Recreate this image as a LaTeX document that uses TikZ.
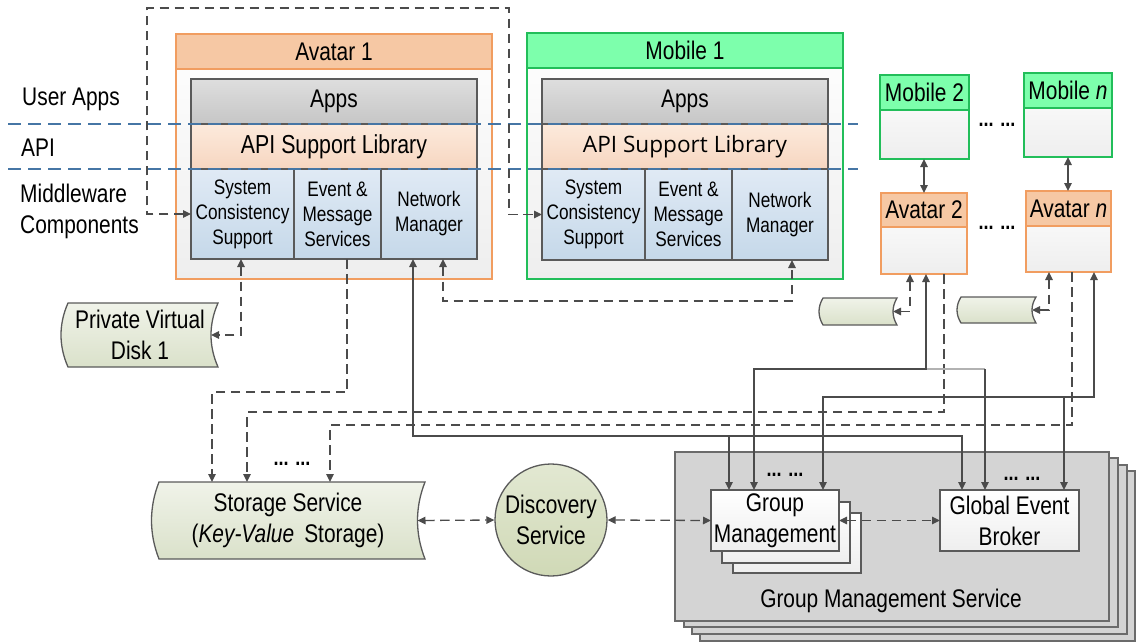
\documentclass[tikz,border=0pt]{standalone}
\usepackage{fontspec}
\setmainfont{Liberation Sans}[FakeStretch=0.82]
\newfontfamily\osans{Open Sans}
\usetikzlibrary{arrows.meta,fit,calc,backgrounds}

\definecolor{avhead}{RGB}{246,200,164}
\definecolor{avbord}{RGB}{241,157,96}
\definecolor{mohead}{RGB}{125,255,172}
\definecolor{mobord}{RGB}{34,190,90}
\definecolor{edgec}{RGB}{90,90,90}
\definecolor{connc}{RGB}{75,75,75}
\definecolor{apitop}{RGB}{252,234,220}
\definecolor{apibot}{RGB}{247,214,192}
\definecolor{comptop}{RGB}{224,234,245}
\definecolor{compbot}{RGB}{197,216,233}
\definecolor{appstop}{RGB}{222,222,222}
\definecolor{appsbot}{RGB}{198,198,198}
\definecolor{layerblue}{RGB}{70,118,165}
\definecolor{disktop}{RGB}{240,243,233}
\definecolor{diskbot}{RGB}{218,225,202}
\definecolor{disctop}{RGB}{226,232,210}
\definecolor{discbot}{RGB}{208,217,182}
\definecolor{gmsfill}{RGB}{212,212,212}
\definecolor{bodybot}{RGB}{238,238,238}

\newcommand\diskshape[2]{%
  \begin{scope}[on background layer]
  \path[draw=edgec, line width=1.3pt, top color=disktop, bottom color=diskbot]
    (#1.north west) -- (#1.north east)
    .. controls ($(#1.north east)!0.33!(#1.south east)+(-1.333*#2,0)$)
       and ($(#1.north east)!0.67!(#1.south east)+(-1.333*#2,0)$) .. (#1.south east)
    -- (#1.south west)
    .. controls ($(#1.south west)!0.33!(#1.north west)+(-1.333*#2,0)$)
       and ($(#1.south west)!0.67!(#1.north west)+(-1.333*#2,0)$) .. (#1.north west) -- cycle;
  \end{scope}}

\begin{document}
\begin{tikzpicture}[x=1pt,y=-1pt,
  base/.style={inner sep=0pt, outer sep=0pt, align=center, font=\fontsize{25.5}{31}\selectfont},
  avbody/.style={base, draw=avbord, line width=1.5pt, top color=white, bottom color=bodybot},
  avhd/.style={base, draw=avbord, line width=1.5pt, fill=avhead},
  mobody/.style={base, draw=mobord, line width=1.5pt, top color=white, bottom color=bodybot},
  mohd/.style={base, draw=mobord, line width=1.5pt, fill=mohead},
  appsbox/.style={base, draw=edgec, line width=1.4pt, top color=appstop, bottom color=appsbot},
  apibox/.style={base, draw=edgec, line width=1.4pt, top color=apitop, bottom color=apibot},
  compbox/.style={base, draw=edgec, line width=1.4pt, top color=comptop, bottom color=compbot},
  diskbox/.style={base},
  gmspanel/.style={base, draw=edgec!90, line width=1.4pt, fill=gmsfill},
  whitebox/.style={base, draw=edgec, line width=1.4pt, top color=white, bottom color=bodybot},
  label/.style={inner sep=0pt, font=\fontsize{25.5}{31}\selectfont, align=left},
  dots/.style={inner sep=0pt, font=\bfseries\fontsize{22}{26}\selectfont},
  solidc/.style={draw=connc, line width=1.3pt},
  lightc/.style={draw=black!30, line width=1.3pt},
  dashc/.style={draw=connc, line width=1.3pt, dash pattern=on 9.5pt off 5.5pt},
  arr/.style={-{Triangle[length=8pt,width=7.5pt]}},
  barr/.style={{Triangle[length=8pt,width=7.5pt]}-{Triangle[length=8pt,width=7.5pt]}}
]
\useasboundingbox (0,0) rectangle (1136,643);

% ---------- left labels
\node[label, anchor=west] (lusr) at (22,99) {User Apps};
\node[label, anchor=west] (lapi) at (21,148) {API};
\node[label, anchor=west] (lmid) at (20,211) {Middleware\\Components};

% ---------- Avatar 1
\node[avbody, fit={(176,34)(492,279)}] (av1) {};
\node[avhd, fit={(176,34)(492,69)}] (av1h) {};
\node at (av1h.center) {\fontsize{25.5}{31}\selectfont Avatar 1};
\node[appsbox, fit={(191,79)(477,124)}] (apps1) {};
\node at (apps1.center) {\fontsize{25.5}{31}\selectfont Apps};
\node[apibox, fit={(191,124)(477,169)}] (api1) {};
\node at (api1.center) {\fontsize{26}{30}\selectfont API Support Library};
\node[compbox, fit={(191,169)(294,259)}] (scs1) {};
\node[compbox, fit={(294,169)(381,259)}] (ems1) {};
\node[compbox, fit={(381,169)(477,259)}] (nm1) {};
\node[align=center, font=\fontsize{21}{25}\selectfont] at (scs1.center) {System\\Consistency\\Support};
\node[align=center, font=\fontsize{21}{25}\selectfont] at (ems1.center) {Event \&\\Message\\Services};
\node[align=center, font=\fontsize{21}{25}\selectfont] at (nm1.center) {Network\\Manager};

% ---------- Mobile 1
\node[mobody, fit={(527,33)(843,279)}] (mo1) {};
\node[mohd, fit={(527,33)(843,68)}] (mo1h) {};
\node at (mo1h.center) {\fontsize{25.5}{31}\selectfont Mobile 1};
\node[appsbox, fit={(542,79)(828,124)}] (appsm) {};
\node at (appsm.center) {\fontsize{25.5}{31}\selectfont Apps};
\node[apibox, fit={(542,124)(828,169)}] (apim) {};
\node at (apim.center) {\osans\fontsize{22.6}{27}\selectfont API Support Library};
\node[compbox, fit={(542,169)(645,260)}] (scsm) {};
\node[compbox, fit={(645,169)(732,260)}] (emsm) {};
\node[compbox, fit={(732,169)(828,260)}] (nmm) {};
\node[align=center, font=\fontsize{21}{25}\selectfont] at (scsm.center) {System\\Consistency\\Support};
\node[align=center, font=\fontsize{21}{25}\selectfont] at (emsm.center) {Event \&\\Message\\Services};
\node[align=center, font=\fontsize{21}{25}\selectfont] at (nmm.center) {Network\\Manager};

% ---------- small mobiles / avatars
\node[mobody, fit={(880,75)(969,159)}] (mo2) {};
\node[mohd, fit={(880,75)(969,110)}] (mo2h) {};
\node at (mo2h.center) {\fontsize{25.5}{31}\selectfont Mobile 2};
\node[mobody, fit={(1024,73)(1112,157)}] (mon) {};
\node[mohd, fit={(1024,73)(1112,108)}] (monh) {};
\node at (monh.center) {\fontsize{25.5}{31}\selectfont Mobile \textit{n}};
\node[avbody, fit={(881,193)(967,274)}] (av2) {};
\node[avhd, fit={(881,193)(967,227)}] (av2h) {};
\node at (av2h.center) {\fontsize{25.5}{31}\selectfont Avatar 2};
\node[avbody, fit={(1026,191)(1111,272)}] (avn) {};
\node[avhd, fit={(1026,191)(1111,226)}] (avnh) {};
\node at (avnh.center) {\fontsize{25.5}{31}\selectfont Avatar \textit{n}};
\node[dots] (dm) at (997,125) {... ...};
\node[dots] (da) at (997,228) {... ...};

% ---------- disks
\node[diskbox, fit={(68,303)(218,367)}] (pvd) {};
\diskshape{pvd}{7}
\node at (pvd.center) [align=center, font=\fontsize{25.5}{31}\selectfont, xshift=-3pt] {Private Virtual\\Disk 1};
\node[diskbox, fit={(823,298)(897,325)}] (disk2) {};
\diskshape{disk2}{4}
\node[diskbox, fit={(961,297)(1036,323)}] (diskn) {};
\diskshape{diskn}{4}
\node[diskbox, fit={(159,482)(425,559)}] (store) {};
\diskshape{store}{7.5}
\node at (store.center) [align=center, font=\fontsize{25.5}{31}\selectfont, xshift=-4pt] {Storage Service\\(\textit{Key-Value}\, Storage)};
\node[dots] (ds) at (292,464) {... ...};

% ---------- discovery
\node[circle, draw=edgec, line width=1.3pt, top color=disctop, bottom color=discbot,
      minimum size=112pt, inner sep=0pt, align=center, font=\fontsize{25.5}{31}\selectfont] (disc) at (551,520) {Discovery\\Service};

% ---------- group management service
\node[gmspanel, fit={(700,471)(1135,641)}] (gms4) {};
\node[gmspanel, fit={(692,465)(1127,634)}] (gms3) {};
\node[gmspanel, fit={(684,458)(1118,627)}] (gms2) {};
\node[gmspanel, fit={(675,452)(1109,621)}] (gms) {};
\node[font=\fontsize{25.5}{31}\selectfont] (gmsl) at (891,601) {Group Management Service};
\node[whitebox, fit={(733,513)(861,573)}] (gm3) {};
\node[whitebox, fit={(722,502)(850,563)}] (gm2) {};
\node[whitebox, fit={(711,490)(839,551)}] (gm) {};
\node[align=center, font=\fontsize{25.5}{31}\selectfont] at (gm.center) {Group\\Management};
\node[whitebox, fit={(940,490)(1079,551)}] (geb) {};
\node[align=center, font=\fontsize{25.5}{31}\selectfont] at (geb.center) {Global Event\\Broker};
\node[dots] (dgm) at (785,475) {... ...};
\node[dots] (dgeb) at (1022,479) {... ...};

% ---------- layer separators
\draw[layerblue, line width=1.6pt, dash pattern=on 13pt off 7pt] (8,124) -- (858,124);
\draw[layerblue, line width=1.6pt, dash pattern=on 13pt off 7pt] (8,169) -- (858,169);

% ---------- connectors
\draw[dashc,barr] (scs1.west) -- (scs1.west -| 147,0) -- (147,8) -- (509,8) -- (scsm.west -| 509,0) -- (scsm.west);
\draw[dashc,barr] (scs1.south -| 241,0) |- ($(pvd.east)+(-7,0)$);
\draw[dashc,arr] (ems1.south -| 347,0) |- (212,392) -- (store.north -| 212,0);
\draw[dashc,barr] (nm1.south -| 443,0) |- (792,301) -- (nmm.south -| 792,0);
\draw[solidc,barr] (nm1.south -| 413,0) |- (962,436) -- (geb.north -| 962,0);
\draw[solidc,arr] (729,436) -- (gm.north -| 729,0);

\draw[solidc,barr] (mo2.south -| 924,0) -- (av2.north -| 924,0);
\draw[solidc,barr] (mon.south -| 1068,0) -- (avn.north -| 1068,0);

\draw[dashc,barr] (av2.south -| 910,0) |- ($(disk2.east)+(-4,0)$);
\draw[dashc,barr] (avn.south -| 1049,0) |- ($(diskn.east)+(-4,0)$);

\draw[dashc,arr] (av2.south -| 944,0) |- (247,412) -- (store.north -| 247,0);
\draw[dashc,arr] (avn.south -| 1072,0) |- (330,425) -- (store.north -| 330,0);

\draw[lightc] (926,369) -- (985,369);
\draw[solidc,arr] (985,369) -- (geb.north -| 985,0);
\draw[solidc,barr] (av2.south -| 926,0) |- (754,369) -- (gm.north -| 754,0);
\draw[solidc,barr] (avn.south -| 1094,0) |- (823,397) -- (gm.north -| 823,0);
\draw[solidc,arr] (1064,397) -- (geb.north -| 1064,0);

\draw[dashc,barr] ($(store.east)+(-7.5,0)$) -- (disc.west);
\draw[dashc,barr] (disc.east) -- (gm.west);
\draw[dashc,barr] (gm.east) -- (geb.west);
\end{tikzpicture}
\end{document}
